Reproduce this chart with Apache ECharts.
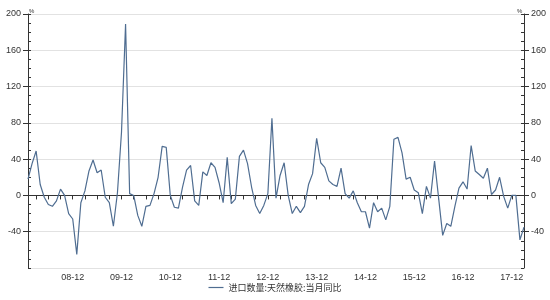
<!DOCTYPE html>
<html><head><meta charset="utf-8">
<script src="https://cdn.jsdelivr.net/npm/echarts@6/dist/echarts.min.js"></script>
<style>html,body{margin:0;padding:0;background:#fff}#c{width:550px;height:300px}</style>
</head><body><div id="c"></div>
<script>
var categories = [
'2008-01','2008-02','2008-03','2008-04','2008-05','2008-06','2008-07','2008-08','2008-09','2008-10','2008-11','2008-12',
'2009-01','2009-02','2009-03','2009-04','2009-05','2009-06','2009-07','2009-08','2009-09','2009-10','2009-11','2009-12',
'2010-01','2010-02','2010-03','2010-04','2010-05','2010-06','2010-07','2010-08','2010-09','2010-10','2010-11','2010-12',
'2011-01','2011-02','2011-03','2011-04','2011-05','2011-06','2011-07','2011-08','2011-09','2011-10','2011-11','2011-12',
'2012-01','2012-02','2012-03','2012-04','2012-05','2012-06','2012-07','2012-08','2012-09','2012-10','2012-11','2012-12',
'2013-01','2013-02','2013-03','2013-04','2013-05','2013-06','2013-07','2013-08','2013-09','2013-10','2013-11','2013-12',
'2014-01','2014-02','2014-03','2014-04','2014-05','2014-06','2014-07','2014-08','2014-09','2014-10','2014-11','2014-12',
'2015-01','2015-02','2015-03','2015-04','2015-05','2015-06','2015-07','2015-08','2015-09','2015-10','2015-11','2015-12',
'2016-01','2016-02','2016-03','2016-04','2016-05','2016-06','2016-07','2016-08','2016-09','2016-10','2016-11','2016-12',
'2017-01','2017-02','2017-03','2017-04','2017-05','2017-06','2017-07','2017-08','2017-09','2017-10','2017-11','2017-12',
'2018-01','2018-02','2018-03'
];
var seriesName = '进口数量:天然橡胶:当月同比';
var values = [
18,35,49,12,-2,-10,-12,-6,7,0,-20,-26,
-65,-8,5,27,39,25,28,-2,-8,-34,3,70,
189,2,0,-22,-34,-12,-11,2,20,54,53,0,
-13,-14,9,28,33,-6,-11,26,22,36,31,14,
-8,42,-9,-4,43,50,35,9,-11,-20,-11,2,
85,-3,22,36,0,-20,-12,-19,-12,12,24,63,
36,31,16,12,10,30,2,-3,5,-8,-18,-18,
-36,-8,-18,-14,-27,-12,62,64,47,18,20,6,
3,-20,10,-3,38,-3,-44,-31,-34,-12,8,15,
7,55,27,23,19,30,1,6,20,-1,-14,0,
0,-49,-35
];
var yMin = -80, yMax = 200, yStep = 40, yMinorStep = 10;

var chart = echarts.init(document.getElementById('c'), null, {renderer:'canvas'});
var axisColor = '#333';
var labelStyle = {fontSize: 9, color: '#333', fontFamily: 'Arial, "Liberation Sans", sans-serif'};
function majorAxis(pos, showSplit) {
  return {
    type: 'value', position: pos, min: yMin, max: yMax, interval: yStep,
    axisLine: {show: true, lineStyle: {color: axisColor, width: 1}},
    axisTick: {show: true, inside: false, length: 5, lineStyle: {color: axisColor}},
    axisLabel: Object.assign({margin: 7, showMinLabel: false}, labelStyle),
    splitLine: {show: showSplit, lineStyle: {color: '#e2e2e2', width: 1}}
  };
}
function minorAxis(pos) {
  return {
    type: 'value', position: pos, min: yMin, max: yMax, interval: yMinorStep,
    axisLine: {show: false},
    axisTick: {show: true, inside: true, length: 3, lineStyle: {color: axisColor}},
    axisLabel: {show: false},
    splitLine: {show: false}
  };
}
chart.setOption({
  animation: false,
  backgroundColor: '#fff',
  grid: {left: 28, right: 26, top: 14, bottom: 32, containLabel: false},
  legend: {
    show: true, bottom: 3, left: 'center', icon: 'rect', itemWidth: 15, itemHeight: 1.2, itemGap: 6,
    textStyle: {fontSize: 9, color: '#333', fontFamily: '"Noto Sans CJK SC", sans-serif'},
    data: [seriesName]
  },
  xAxis: {
    type: 'category', data: categories, boundaryGap: false,
    axisLine: {show: true, lineStyle: {color: axisColor, width: 1}},
    axisTick: {show: true, length: 4, interval: function (i) { return i % 3 === 2; }, lineStyle: {color: axisColor}},
    axisLabel: Object.assign({
      margin: 5,
      interval: function (i) { return i % 12 === 11; },
      formatter: function (v) { return v.slice(2); }
    }, labelStyle),
    splitLine: {show: false}
  },
  yAxis: [majorAxis('left', true), majorAxis('right', false), minorAxis('left'), minorAxis('right')],
  series: [{
    name: seriesName, type: 'line', data: values, yAxisIndex: 0,
    symbol: 'none', smooth: false,
    lineStyle: {color: '#4F6D91', width: 1.2},
    itemStyle: {color: '#4F6D91'}
  }],
  graphic: [
    {type: 'text', left: 29, top: 8, style: {text: '%', fontSize: 6, fill: '#333'}},
    {type: 'text', left: 517, top: 8, style: {text: '%', fontSize: 6, fill: '#333'}}
  ]
});
</script>
</body></html>
